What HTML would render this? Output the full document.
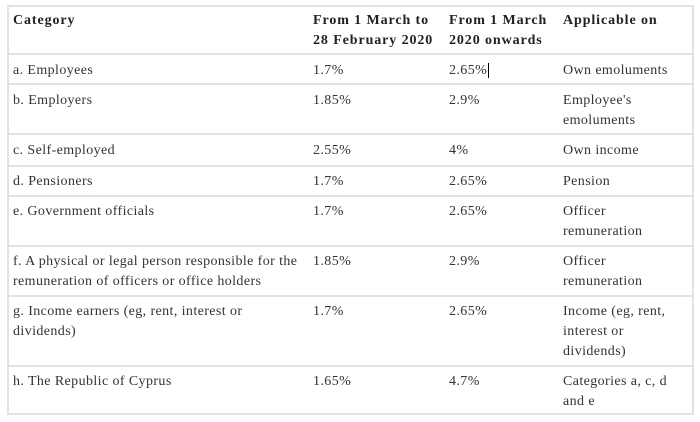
<!DOCTYPE html>
<html><head><style>
body{margin:0;background:#fff;width:700px;height:422px;overflow:hidden;font-family:"Liberation Serif",serif;font-size:14px;letter-spacing:0.4px;color:#333;}
.t{position:absolute;left:7px;top:5px;width:687px;height:410px;border:2px solid #e2e2e2;box-sizing:border-box;}
.r{position:absolute;left:7px;width:687px;border-top:2px solid #e2e2e2;}
.c{position:absolute;line-height:20px;white-space:nowrap;margin-top:1px}
b{font-weight:bold;color:#222;letter-spacing:0.9px}
</style></head><body>
<div class="t"></div>
<div class="r" style="top:53px"></div>
<div class="r" style="top:83px"></div>
<div class="r" style="top:133px"></div>
<div class="r" style="top:165px"></div>
<div class="r" style="top:195px"></div>
<div class="r" style="top:245px"></div>
<div class="r" style="top:295px"></div>
<div class="r" style="top:365px"></div>

<div class="c" style="left:13px;top:10px"><b>Category</b></div>
<div class="c" style="left:313px;top:10px"><b>From 1 March to<br>28 February 2020</b></div>
<div class="c" style="left:449px;top:10px"><b>From 1 March<br>2020 onwards</b></div>
<div class="c" style="left:563px;top:10px"><b>Applicable on</b></div>

<div class="c" style="left:13px;top:60px">a. Employees</div>
<div class="c" style="left:313px;top:60px">1.7%</div>
<div class="c" style="left:449px;top:60px">2.65%<span style="border-left:1px solid #000;margin-left:1px"></span></div>
<div class="c" style="left:563px;top:60px">Own emoluments</div>

<div class="c" style="left:13px;top:90px">b. Employers</div>
<div class="c" style="left:313px;top:90px">1.85%</div>
<div class="c" style="left:449px;top:90px">2.9%</div>
<div class="c" style="left:563px;top:90px">Employee's<br>emoluments</div>

<div class="c" style="left:13px;top:140px">c. Self-employed</div>
<div class="c" style="left:313px;top:140px">2.55%</div>
<div class="c" style="left:449px;top:140px">4%</div>
<div class="c" style="left:563px;top:140px">Own income</div>

<div class="c" style="left:13px;top:171px">d. Pensioners</div>
<div class="c" style="left:313px;top:171px">1.7%</div>
<div class="c" style="left:449px;top:171px">2.65%</div>
<div class="c" style="left:563px;top:171px">Pension</div>

<div class="c" style="left:13px;top:201px">e. Government officials</div>
<div class="c" style="left:313px;top:201px">1.7%</div>
<div class="c" style="left:449px;top:201px">2.65%</div>
<div class="c" style="left:563px;top:201px">Officer<br>remuneration</div>

<div class="c" style="left:13px;top:251px">f. A physical or legal person responsible for the<br>remuneration of officers or office holders</div>
<div class="c" style="left:313px;top:251px">1.85%</div>
<div class="c" style="left:449px;top:251px">2.9%</div>
<div class="c" style="left:563px;top:251px">Officer<br>remuneration</div>

<div class="c" style="left:13px;top:301px">g. Income earners (eg, rent, interest or<br>dividends)</div>
<div class="c" style="left:313px;top:301px">1.7%</div>
<div class="c" style="left:449px;top:301px">2.65%</div>
<div class="c" style="left:563px;top:301px">Income (eg, rent,<br>interest or<br>dividends)</div>

<div class="c" style="left:13px;top:371px">h. The Republic of Cyprus</div>
<div class="c" style="left:313px;top:371px">1.65%</div>
<div class="c" style="left:449px;top:371px">4.7%</div>
<div class="c" style="left:563px;top:371px">Categories a, c, d<br>and e</div>
</body></html>
